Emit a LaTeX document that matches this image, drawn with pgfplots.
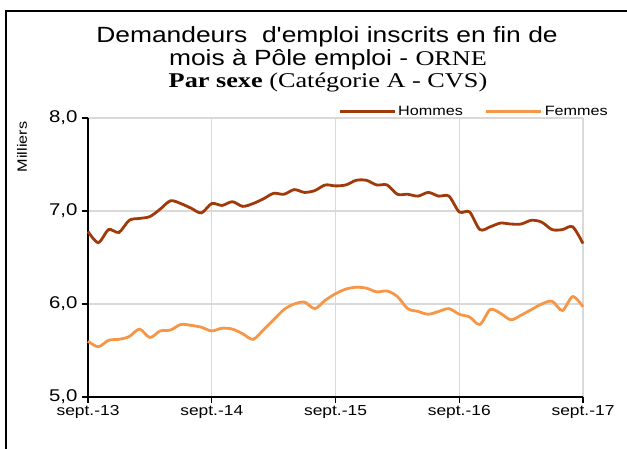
\documentclass[border=0pt]{standalone}
\usepackage{fontspec}
\usepackage{pgfplots}
\usepackage{pgfplotstable}
\pgfplotsset{compat=1.18}
\newfontfamily\arialw[FakeStretch=1.2]{Liberation Sans}
\newfontfamily\timesw[FakeStretch=1.25]{Liberation Serif}
\definecolor{hommes}{RGB}{160,58,10}
\definecolor{femmes}{RGB}{247,150,70}
\definecolor{gridgray}{RGB}{217,217,217}

% month index 0 = sept.-13 ... 48 = sept.-17, values in milliers
\pgfplotstableread{
m h f
0 6.78 5.60
1 6.66 5.54
2 6.80 5.61
3 6.77 5.62
4 6.90 5.65
5 6.92 5.73
6 6.94 5.64
7 7.02 5.71
8 7.11 5.72
9 7.08 5.78
10 7.03 5.77
11 6.98 5.75
12 7.08 5.71
13 7.06 5.74
14 7.10 5.73
15 7.05 5.68
16 7.08 5.62
17 7.13 5.72
18 7.19 5.83
19 7.18 5.94
20 7.23 6.00
21 7.20 6.02
22 7.22 5.95
23 7.28 6.04
24 7.27 6.11
25 7.28 6.16
26 7.33 6.18
27 7.33 6.17
28 7.28 6.13
29 7.28 6.14
30 7.18 6.08
31 7.18 5.95
32 7.16 5.92
33 7.20 5.89
34 7.16 5.92
35 7.16 5.95
36 6.99 5.89
37 6.99 5.86
38 6.80 5.78
39 6.83 5.94
40 6.87 5.90
41 6.86 5.83
42 6.86 5.88
43 6.90 5.94
44 6.88 6.00
45 6.80 6.03
46 6.80 5.93
47 6.83 6.08
48 6.65 5.97
}\sexe

\begin{document}
\begin{tikzpicture}[x=1pt,y=1pt]
\path[use as bounding box] (0,0) rectangle (627,448);
\begin{scope}
\clip (0,0) rectangle (627,448);
\draw[line width=2pt] (6,-20) rectangle (660,437);
\end{scope}

\node[anchor=base] at (327,405) {\arialw\fontsize{22}{26}\selectfont Demandeurs\ \ d'emploi inscrits en fin de};
\node[anchor=base] at (328,382) {\arialw\fontsize{22}{26}\selectfont mois à Pôle emploi - {\timesw\fontsize{21}{26}\selectfont ORNE}};
\node[anchor=base] at (328,360) {\timesw\fontsize{21}{26}\selectfont\textbf{Par sexe} (Catégorie A - CVS)};
\node[rotate=90] at (22,301) {\arialw\fontsize{13.5}{16}\selectfont Milliers};

\begin{axis}[
    at={(88pt,51pt)}, anchor=south west,
    scale only axis, width=495pt, height=279pt,
    xmin=0, xmax=48, ymin=5, ymax=8,
    xtick={0,12,24,36,48},
    xticklabels={sept.-13,sept.-14,sept.-15,sept.-16,sept.-17},
    ytick={5,6,7,8},
    axis x line*=bottom, axis y line*=left,
    axis line style={line width=1.6pt, black},
    tick align=outside, major tick length=6pt,
    tick style={line width=1.2pt, black},
    grid=major, major grid style={line width=1.4pt, gridgray},
    /pgf/number format/assume math mode=true,
    /pgf/number format/.cd, fixed, fixed zerofill, precision=1, use comma, /pgfplots/.cd,
    yticklabel style={font=\arialw\fontsize{17}{20}\selectfont, xshift=-1pt},
    xticklabel style={font=\arialw\fontsize{14.5}{17}\selectfont, yshift=1pt},
    legend style={font=\arialw\fontsize{13.5}{16}\selectfont, draw=none, fill=none,
        at={(0.78,1.022)}, anchor=center, legend columns=2,
        /tikz/every even column/.append style={column sep=20pt}},
    legend image code/.code={\draw[#1] (0pt,0pt) -- (55pt,0pt);},
    clip=false,
  ]
  \addplot[hommes, line width=2.8pt, smooth, tension=0.5] table[x=m, y=h] {\sexe};
  \addlegendentry{Hommes}
  \addplot[femmes, line width=2.8pt, smooth, tension=0.5] table[x=m, y=f] {\sexe};
  \addlegendentry{Femmes}
\end{axis}
\end{tikzpicture}
\end{document}
